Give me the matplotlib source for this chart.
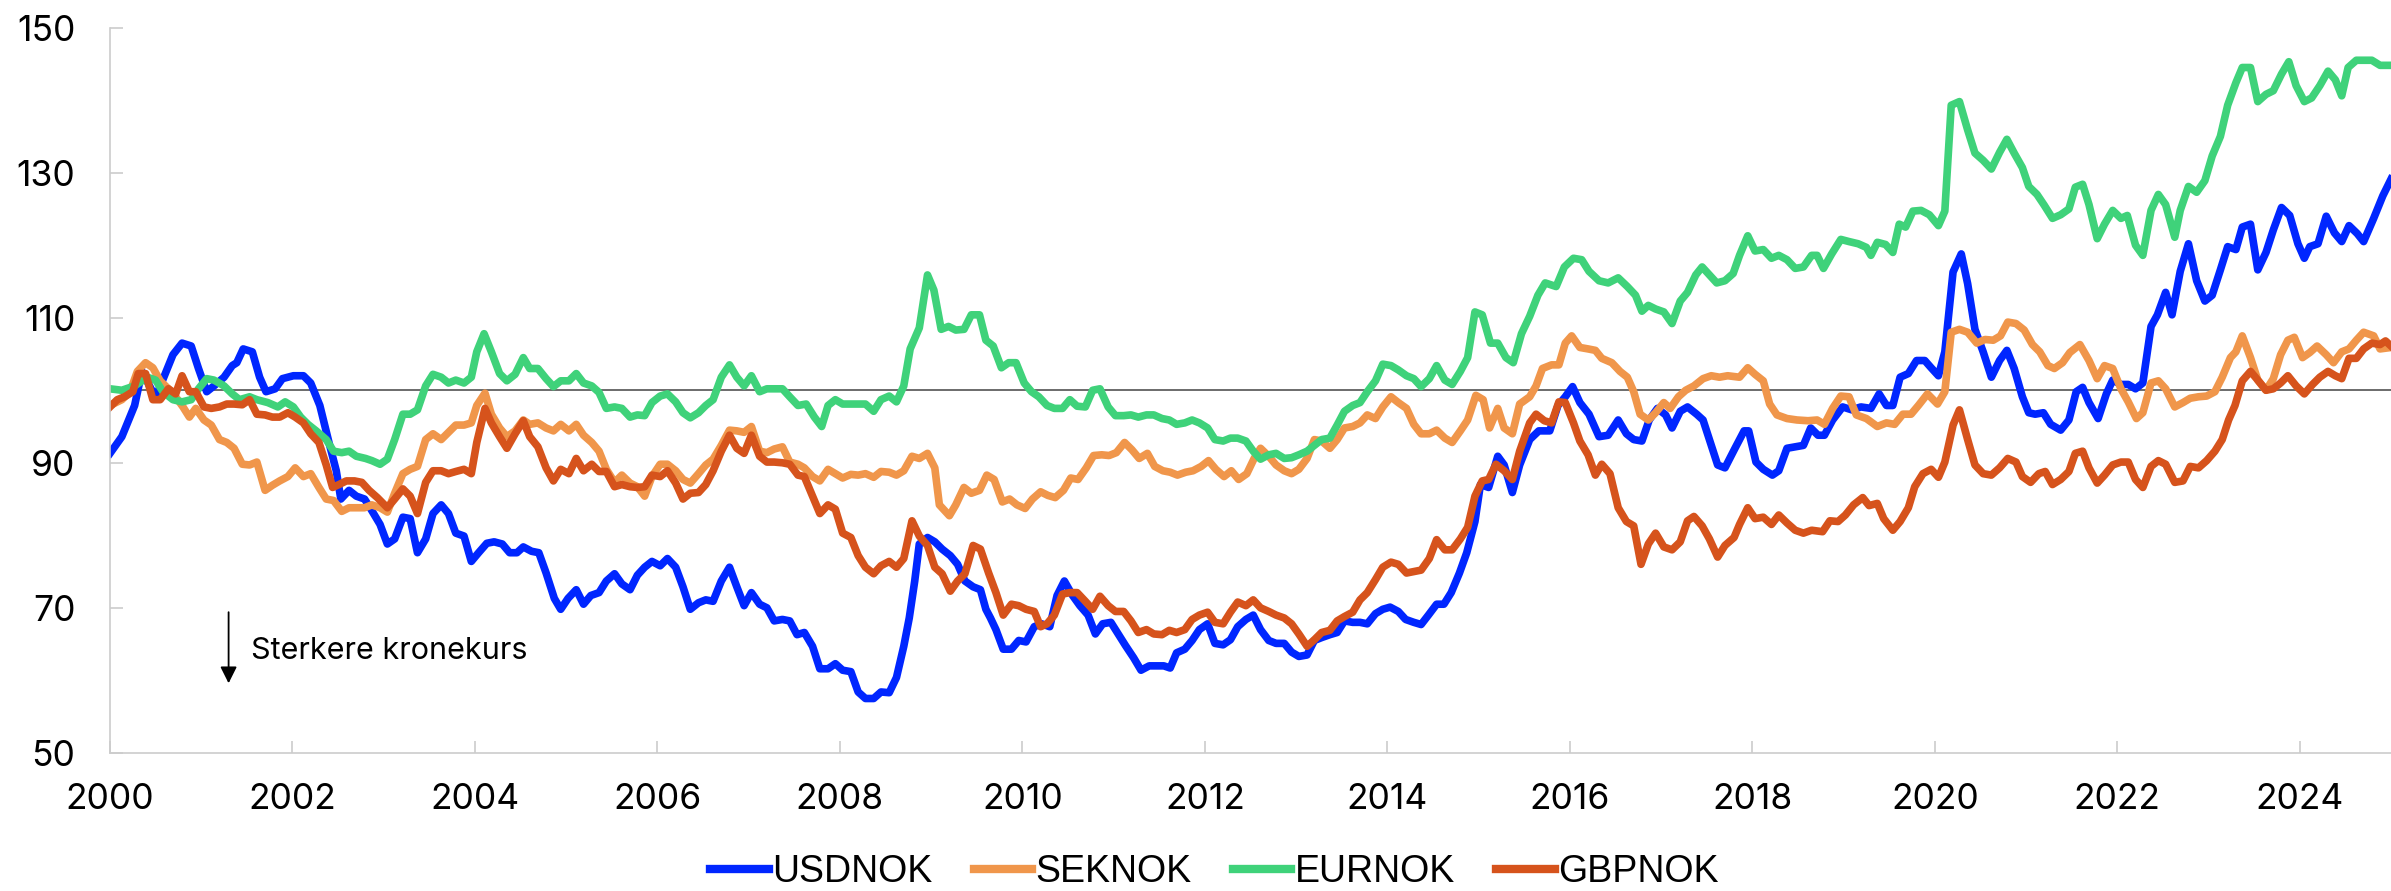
import matplotlib.pyplot as plt

# (år, indeks), 2000 = 100
usdnok = [
    (2000.00, 91.3), (2000.13, 93.6), (2000.27, 97.9), (2000.35, 102.6), (2000.50, 99.0),
    (2000.69, 104.9), (2000.79, 106.5), (2000.89, 106.1), (2000.97, 103.0), (2001.06, 99.8),
    (2001.14, 100.6), (2001.25, 101.8), (2001.34, 103.4), (2001.39, 103.8), (2001.46, 105.7),
    (2001.56, 105.3), (2001.64, 101.8), (2001.71, 99.8), (2001.81, 100.2), (2001.89, 101.6),
    (2002.01, 102.0), (2002.12, 102.0), (2002.20, 101.0), (2002.30, 97.9), (2002.40, 92.8),
    (2002.48, 88.9), (2002.53, 85.0), (2002.62, 86.2), (2002.70, 85.4), (2002.79, 85.0),
    (2002.87, 83.4), (2002.96, 81.5), (2003.04, 78.8), (2003.12, 79.5), (2003.21, 82.5),
    (2003.29, 82.3), (2003.37, 77.6), (2003.46, 79.5), (2003.54, 83.0), (2003.63, 84.2),
    (2003.71, 83.0), (2003.79, 80.3), (2003.88, 79.9), (2003.96, 76.4), (2004.04, 77.6),
    (2004.13, 78.9), (2004.21, 79.1), (2004.30, 78.8), (2004.38, 77.6), (2004.46, 77.6),
    (2004.53, 78.4), (2004.62, 77.8), (2004.70, 77.6), (2004.78, 74.8), (2004.87, 71.3),
    (2004.94, 69.8), (2005.02, 71.3), (2005.11, 72.5), (2005.19, 70.5), (2005.27, 71.7),
    (2005.36, 72.1), (2005.44, 73.7), (2005.53, 74.7), (2005.61, 73.3), (2005.70, 72.5),
    (2005.78, 74.5), (2005.86, 75.6), (2005.94, 76.4), (2006.03, 75.8), (2006.11, 76.8),
    (2006.20, 75.6), (2006.28, 72.9), (2006.36, 69.8), (2006.45, 70.7), (2006.53, 71.1),
    (2006.61, 70.9), (2006.70, 73.7), (2006.79, 75.6), (2006.87, 72.9), (2006.95, 70.3),
    (2007.03, 72.1), (2007.12, 70.5), (2007.20, 70.0), (2007.28, 68.2), (2007.37, 68.4),
    (2007.45, 68.2), (2007.53, 66.3), (2007.61, 66.6), (2007.70, 64.7), (2007.78, 61.6),
    (2007.87, 61.6), (2007.95, 62.3), (2008.03, 61.4), (2008.12, 61.2), (2008.20, 58.4),
    (2008.28, 57.5), (2008.37, 57.5), (2008.45, 58.4), (2008.54, 58.3), (2008.62, 60.4),
    (2008.70, 64.7), (2008.76, 68.6), (2008.82, 73.7), (2008.87, 78.8), (2008.96, 79.7),
    (2009.04, 79.1), (2009.12, 78.1), (2009.21, 77.2), (2009.29, 76.0), (2009.37, 73.7),
    (2009.46, 72.9), (2009.54, 72.5), (2009.60, 69.8), (2009.65, 68.6), (2009.71, 67.0),
    (2009.79, 64.3), (2009.88, 64.3), (2009.96, 65.5), (2010.04, 65.3), (2010.13, 67.4),
    (2010.21, 67.8), (2010.30, 67.4), (2010.38, 71.7), (2010.46, 73.7), (2010.55, 71.7),
    (2010.63, 70.3), (2010.72, 69.0), (2010.80, 66.4), (2010.88, 67.8), (2010.97, 68.0),
    (2011.05, 66.4), (2011.13, 64.8), (2011.22, 63.1), (2011.30, 61.4), (2011.39, 62.0),
    (2011.47, 62.0), (2011.55, 62.0), (2011.62, 61.7), (2011.69, 63.8), (2011.78, 64.3),
    (2011.86, 65.5), (2011.94, 67.0), (2012.03, 67.8), (2012.11, 65.1), (2012.20, 64.9),
    (2012.28, 65.6), (2012.36, 67.4), (2012.45, 68.4), (2012.53, 69.0), (2012.61, 67.0),
    (2012.70, 65.5), (2012.78, 65.1), (2012.87, 65.1), (2012.95, 63.9), (2013.03, 63.3),
    (2013.12, 63.5), (2013.20, 65.5), (2013.28, 65.9), (2013.37, 66.3), (2013.45, 66.6),
    (2013.53, 68.2), (2013.62, 68.0), (2013.70, 68.0), (2013.78, 67.8), (2013.87, 69.2),
    (2013.95, 69.8), (2014.03, 70.1), (2014.12, 69.5), (2014.20, 68.4), (2014.29, 68.0),
    (2014.37, 67.7), (2014.45, 69.0), (2014.54, 70.5), (2014.62, 70.5), (2014.70, 72.1),
    (2014.79, 74.8), (2014.87, 77.6), (2014.96, 81.9), (2015.02, 87.0), (2015.11, 86.6),
    (2015.21, 90.9), (2015.28, 89.7), (2015.37, 85.9), (2015.45, 89.7), (2015.56, 93.2),
    (2015.66, 94.4), (2015.78, 94.4), (2015.87, 97.9), (2015.95, 99.1), (2016.03, 100.5),
    (2016.11, 98.3), (2016.21, 96.7), (2016.32, 93.6), (2016.42, 93.8), (2016.53, 95.9),
    (2016.62, 94.0), (2016.70, 93.2), (2016.79, 93.0), (2016.87, 95.9), (2016.96, 97.5),
    (2017.05, 96.6), (2017.12, 94.8), (2017.21, 97.1), (2017.29, 97.7), (2017.39, 96.7),
    (2017.46, 95.9), (2017.53, 93.2), (2017.62, 89.7), (2017.70, 89.3), (2017.81, 92.0),
    (2017.91, 94.4), (2017.96, 94.4), (2018.04, 90.1), (2018.12, 89.1), (2018.22, 88.3),
    (2018.29, 88.9), (2018.38, 92.0), (2018.47, 92.2), (2018.56, 92.4), (2018.64, 94.8),
    (2018.72, 93.8), (2018.79, 93.8), (2018.88, 95.9), (2018.99, 97.7), (2019.09, 97.3),
    (2019.19, 97.7), (2019.30, 97.5), (2019.39, 99.5), (2019.47, 97.9), (2019.54, 97.9),
    (2019.62, 101.8), (2019.71, 102.3), (2019.80, 104.1), (2019.89, 104.1), (2019.96, 103.1),
    (2020.04, 102.0), (2020.11, 105.3), (2020.20, 116.3), (2020.29, 118.8), (2020.36, 114.7),
    (2020.44, 108.4), (2020.53, 105.3), (2020.62, 101.8), (2020.71, 104.1), (2020.79, 105.5),
    (2020.87, 103.0), (2020.96, 99.1), (2021.03, 96.9), (2021.10, 96.7), (2021.19, 96.9),
    (2021.27, 95.3), (2021.38, 94.5), (2021.47, 95.9), (2021.55, 99.8), (2021.62, 100.4),
    (2021.69, 98.3), (2021.79, 96.1), (2021.88, 99.5), (2021.95, 101.4), (2022.04, 100.8),
    (2022.12, 100.8), (2022.20, 100.2), (2022.28, 101.0), (2022.37, 108.8), (2022.44, 110.4),
    (2022.53, 113.5), (2022.60, 110.4), (2022.69, 116.4), (2022.78, 120.2), (2022.87, 115.1),
    (2022.96, 112.3), (2023.04, 113.1), (2023.13, 116.6), (2023.21, 119.8), (2023.30, 119.4),
    (2023.37, 122.5), (2023.46, 122.9), (2023.54, 116.6), (2023.63, 119.0), (2023.71, 122.1),
    (2023.80, 125.2), (2023.89, 124.1), (2023.98, 120.2), (2024.05, 118.2), (2024.11, 119.8),
    (2024.20, 120.2), (2024.29, 124.0), (2024.38, 121.7), (2024.46, 120.5), (2024.54, 122.7),
    (2024.63, 121.6), (2024.70, 120.5), (2024.81, 123.7), (2024.91, 126.8), (2025.00, 129.1),
]

seknok = [
    (2000.00, 97.9), (2000.13, 98.7), (2000.22, 99.8), (2000.30, 102.6), (2000.39, 103.8),
    (2000.47, 103.1), (2000.55, 101.3), (2000.64, 100.2), (2000.72, 99.1), (2000.80, 97.7),
    (2000.87, 96.3), (2000.94, 97.5), (2001.03, 95.9), (2001.11, 95.2), (2001.20, 93.2),
    (2001.28, 92.8), (2001.36, 92.0), (2001.45, 89.8), (2001.53, 89.7), (2001.61, 90.1),
    (2001.70, 86.2), (2001.78, 86.9), (2001.86, 87.5), (2001.95, 88.1), (2002.03, 89.3),
    (2002.12, 88.1), (2002.20, 88.5), (2002.29, 86.6), (2002.37, 85.0), (2002.45, 84.8),
    (2002.54, 83.3), (2002.62, 83.8), (2002.70, 83.8), (2002.79, 83.8), (2002.87, 84.2),
    (2002.96, 83.8), (2003.04, 83.2), (2003.12, 85.8), (2003.21, 88.5), (2003.29, 89.1),
    (2003.37, 89.5), (2003.46, 93.2), (2003.54, 94.0), (2003.63, 93.2), (2003.71, 94.2),
    (2003.79, 95.2), (2003.88, 95.2), (2003.96, 95.5), (2004.02, 97.9), (2004.11, 99.6),
    (2004.18, 96.7), (2004.27, 94.8), (2004.35, 93.6), (2004.44, 94.4), (2004.53, 95.9),
    (2004.60, 95.3), (2004.69, 95.5), (2004.78, 94.8), (2004.86, 94.4), (2004.94, 95.3),
    (2005.03, 94.4), (2005.11, 95.3), (2005.19, 93.8), (2005.28, 92.8), (2005.36, 91.6),
    (2005.44, 89.1), (2005.53, 87.3), (2005.61, 88.3), (2005.70, 87.2), (2005.78, 86.7),
    (2005.86, 85.4), (2005.94, 88.1), (2006.03, 89.8), (2006.11, 89.8), (2006.20, 88.9),
    (2006.28, 87.7), (2006.36, 87.2), (2006.45, 88.5), (2006.53, 89.7), (2006.61, 90.5),
    (2006.70, 92.4), (2006.79, 94.5), (2006.87, 94.4), (2006.95, 94.2), (2007.03, 95.0),
    (2007.12, 91.6), (2007.20, 91.4), (2007.28, 91.9), (2007.37, 92.2), (2007.45, 90.1),
    (2007.54, 89.8), (2007.61, 89.3), (2007.70, 88.1), (2007.78, 87.5), (2007.87, 89.1),
    (2007.95, 88.5), (2008.03, 87.9), (2008.12, 88.4), (2008.20, 88.3), (2008.28, 88.5),
    (2008.37, 88.0), (2008.45, 88.8), (2008.54, 88.7), (2008.62, 88.3), (2008.70, 88.9),
    (2008.79, 90.9), (2008.87, 90.6), (2008.96, 91.3), (2009.04, 89.3), (2009.09, 84.2),
    (2009.20, 82.7), (2009.27, 84.2), (2009.36, 86.6), (2009.44, 85.8), (2009.53, 86.2),
    (2009.61, 88.3), (2009.69, 87.7), (2009.78, 84.6), (2009.86, 85.0), (2009.94, 84.2),
    (2010.03, 83.7), (2010.11, 85.0), (2010.20, 86.0), (2010.28, 85.5), (2010.36, 85.2),
    (2010.45, 86.2), (2010.53, 87.9), (2010.61, 87.7), (2010.70, 89.3), (2010.78, 91.0),
    (2010.87, 91.1), (2010.95, 91.0), (2011.03, 91.4), (2011.12, 92.8), (2011.20, 91.8),
    (2011.28, 90.6), (2011.37, 91.3), (2011.45, 89.5), (2011.54, 88.9), (2011.62, 88.7),
    (2011.70, 88.3), (2011.79, 88.7), (2011.87, 88.9), (2011.96, 89.5), (2012.04, 90.3),
    (2012.12, 89.1), (2012.21, 88.1), (2012.29, 88.9), (2012.37, 87.7), (2012.46, 88.5),
    (2012.54, 90.6), (2012.61, 92.0), (2012.70, 90.9), (2012.78, 89.7), (2012.87, 88.9),
    (2012.95, 88.5), (2013.03, 89.1), (2013.12, 90.6), (2013.20, 93.2), (2013.28, 93.0),
    (2013.37, 92.0), (2013.45, 93.2), (2013.53, 94.8), (2013.62, 95.0), (2013.70, 95.5),
    (2013.78, 96.6), (2013.87, 96.1), (2013.95, 97.7), (2014.04, 99.1), (2014.12, 98.3),
    (2014.21, 97.5), (2014.29, 95.3), (2014.37, 94.0), (2014.46, 94.0), (2014.54, 94.5),
    (2014.63, 93.4), (2014.71, 92.8), (2014.80, 94.4), (2014.88, 95.9), (2014.97, 99.3),
    (2015.05, 98.7), (2015.12, 94.8), (2015.21, 97.5), (2015.28, 94.8), (2015.37, 94.0),
    (2015.45, 98.1), (2015.56, 99.1), (2015.63, 100.6), (2015.70, 103.0), (2015.80, 103.5),
    (2015.88, 103.5), (2015.95, 106.5), (2016.02, 107.5), (2016.11, 105.9), (2016.20, 105.7),
    (2016.28, 105.5), (2016.35, 104.4), (2016.46, 103.8), (2016.55, 102.6), (2016.63, 101.8),
    (2016.70, 99.8), (2016.77, 96.7), (2016.86, 95.9), (2016.94, 96.9), (2017.03, 98.3),
    (2017.10, 97.5), (2017.19, 99.1), (2017.27, 100.0), (2017.36, 100.6), (2017.46, 101.6),
    (2017.55, 102.0), (2017.64, 101.8), (2017.73, 102.0), (2017.86, 101.8), (2017.95, 103.1),
    (2018.03, 102.2), (2018.12, 101.3), (2018.19, 98.1), (2018.27, 96.6), (2018.38, 96.1),
    (2018.49, 95.9), (2018.61, 95.8), (2018.71, 95.9), (2018.79, 95.3), (2018.88, 97.5),
    (2018.97, 99.2), (2019.06, 99.1), (2019.14, 96.6), (2019.25, 96.1), (2019.37, 95.0),
    (2019.47, 95.5), (2019.56, 95.3), (2019.65, 96.7), (2019.74, 96.7), (2019.82, 97.9),
    (2019.92, 99.5), (2020.03, 98.1), (2020.11, 99.8), (2020.18, 108.0), (2020.27, 108.4),
    (2020.36, 108.0), (2020.46, 106.5), (2020.55, 107.0), (2020.64, 106.9), (2020.72, 107.5),
    (2020.80, 109.4), (2020.89, 109.2), (2020.98, 108.3), (2021.07, 106.3), (2021.15, 105.3),
    (2021.24, 103.4), (2021.31, 103.0), (2021.40, 103.8), (2021.48, 105.2), (2021.59, 106.3),
    (2021.69, 104.1), (2021.78, 101.6), (2021.86, 103.4), (2021.95, 103.0), (2022.04, 100.2),
    (2022.12, 98.4), (2022.21, 96.1), (2022.28, 96.9), (2022.37, 101.0), (2022.45, 101.3),
    (2022.53, 100.2), (2022.63, 97.7), (2022.72, 98.3), (2022.80, 98.9), (2022.89, 99.1),
    (2022.98, 99.2), (2023.07, 99.8), (2023.15, 101.8), (2023.24, 104.5), (2023.30, 105.3),
    (2023.37, 107.5), (2023.46, 104.5), (2023.54, 101.4), (2023.63, 100.0), (2023.71, 101.6),
    (2023.79, 104.9), (2023.87, 106.9), (2023.94, 107.3), (2024.03, 104.5), (2024.11, 105.2),
    (2024.19, 106.1), (2024.29, 104.9), (2024.37, 103.8), (2024.46, 105.3), (2024.54, 105.7),
    (2024.62, 106.9), (2024.70, 108.0), (2024.81, 107.5), (2024.88, 105.7), (2025.00, 105.9),
]

eurnok = [
    (2000.00, 100.2), (2000.13, 100.0), (2000.27, 100.6), (2000.41, 101.8), (2000.50, 101.4),
    (2000.58, 99.8), (2000.69, 98.7), (2000.79, 98.4), (2000.89, 98.7), (2000.97, 100.2),
    (2001.06, 101.6), (2001.14, 101.4), (2001.25, 100.6), (2001.34, 99.5), (2001.42, 98.7),
    (2001.53, 99.1), (2001.61, 98.7), (2001.73, 98.3), (2001.84, 97.7), (2001.92, 98.4),
    (2002.01, 97.7), (2002.09, 96.3), (2002.17, 95.3), (2002.26, 94.4), (2002.37, 93.2),
    (2002.45, 91.6), (2002.54, 91.4), (2002.62, 91.6), (2002.70, 90.9), (2002.80, 90.6),
    (2002.87, 90.3), (2002.96, 89.8), (2003.04, 90.5), (2003.12, 93.2), (2003.21, 96.7),
    (2003.29, 96.7), (2003.37, 97.3), (2003.46, 100.6), (2003.54, 102.2), (2003.63, 101.8),
    (2003.71, 101.0), (2003.79, 101.4), (2003.88, 101.0), (2003.96, 101.8), (2004.02, 105.3),
    (2004.10, 107.8), (2004.18, 105.3), (2004.27, 102.3), (2004.35, 101.3), (2004.44, 102.2),
    (2004.53, 104.5), (2004.60, 103.0), (2004.69, 103.0), (2004.78, 101.6), (2004.86, 100.5),
    (2004.94, 101.3), (2005.03, 101.3), (2005.11, 102.3), (2005.19, 101.0), (2005.28, 100.6),
    (2005.36, 99.7), (2005.44, 97.5), (2005.53, 97.7), (2005.61, 97.5), (2005.70, 96.3),
    (2005.78, 96.6), (2005.86, 96.5), (2005.94, 98.3), (2006.03, 99.2), (2006.11, 99.5),
    (2006.20, 98.4), (2006.28, 96.9), (2006.36, 96.2), (2006.45, 96.9), (2006.53, 97.9),
    (2006.61, 98.7), (2006.70, 101.8), (2006.79, 103.5), (2006.87, 101.8), (2006.95, 100.6),
    (2007.03, 102.0), (2007.12, 99.8), (2007.20, 100.2), (2007.28, 100.2), (2007.37, 100.2),
    (2007.45, 99.1), (2007.54, 97.9), (2007.63, 98.1), (2007.72, 96.3), (2007.80, 95.0),
    (2007.87, 97.9), (2007.95, 98.7), (2008.03, 98.1), (2008.12, 98.1), (2008.20, 98.1),
    (2008.28, 98.1), (2008.37, 97.1), (2008.45, 98.7), (2008.54, 99.2), (2008.62, 98.4),
    (2008.70, 100.6), (2008.77, 105.7), (2008.87, 108.6), (2008.96, 115.9), (2009.03, 113.8),
    (2009.11, 108.4), (2009.19, 108.8), (2009.27, 108.3), (2009.36, 108.4), (2009.44, 110.4),
    (2009.53, 110.4), (2009.60, 106.9), (2009.68, 106.1), (2009.77, 103.1), (2009.85, 103.8),
    (2009.93, 103.8), (2010.02, 101.0), (2010.10, 99.8), (2010.18, 99.1), (2010.27, 97.9),
    (2010.35, 97.5), (2010.44, 97.5), (2010.52, 98.7), (2010.60, 97.8), (2010.69, 97.7),
    (2010.77, 100.0), (2010.85, 100.2), (2010.94, 97.7), (2011.02, 96.5), (2011.11, 96.5),
    (2011.19, 96.6), (2011.27, 96.3), (2011.36, 96.6), (2011.44, 96.6), (2011.53, 96.1),
    (2011.61, 95.9), (2011.69, 95.3), (2011.78, 95.5), (2011.86, 95.9), (2011.94, 95.5),
    (2012.03, 94.8), (2012.11, 93.2), (2012.20, 93.0), (2012.28, 93.4), (2012.36, 93.4),
    (2012.45, 93.0), (2012.53, 91.6), (2012.61, 90.5), (2012.70, 91.1), (2012.78, 91.3),
    (2012.87, 90.6), (2012.95, 90.7), (2013.03, 91.1), (2013.12, 91.6), (2013.20, 92.4),
    (2013.28, 93.2), (2013.37, 93.4), (2013.45, 95.2), (2013.53, 97.1), (2013.62, 97.9),
    (2013.70, 98.3), (2013.78, 99.8), (2013.87, 101.3), (2013.95, 103.6), (2014.04, 103.4),
    (2014.12, 102.8), (2014.21, 102.0), (2014.29, 101.6), (2014.37, 100.5), (2014.46, 101.6),
    (2014.54, 103.4), (2014.63, 101.4), (2014.71, 100.8), (2014.80, 102.6), (2014.88, 104.5),
    (2014.96, 110.8), (2015.04, 110.4), (2015.13, 106.5), (2015.21, 106.5), (2015.30, 104.5),
    (2015.38, 103.8), (2015.47, 107.8), (2015.56, 110.2), (2015.65, 113.1), (2015.73, 114.8),
    (2015.85, 114.3), (2015.94, 117.0), (2016.04, 118.2), (2016.13, 118.0), (2016.21, 116.4),
    (2016.32, 115.1), (2016.42, 114.8), (2016.53, 115.5), (2016.63, 114.3), (2016.72, 113.1),
    (2016.79, 110.9), (2016.86, 111.7), (2016.94, 111.2), (2017.03, 110.8), (2017.12, 109.2),
    (2017.21, 112.3), (2017.29, 113.5), (2017.38, 115.9), (2017.45, 117.0), (2017.53, 115.9),
    (2017.61, 114.8), (2017.70, 115.1), (2017.79, 116.1), (2017.86, 118.6), (2017.95, 121.3),
    (2018.03, 119.2), (2018.12, 119.4), (2018.21, 118.2), (2018.29, 118.6), (2018.38, 118.0),
    (2018.47, 116.8), (2018.56, 117.0), (2018.65, 118.6), (2018.71, 118.6), (2018.78, 116.8),
    (2018.87, 118.8), (2018.97, 120.8), (2019.06, 120.5), (2019.16, 120.2), (2019.25, 119.7),
    (2019.30, 118.6), (2019.37, 120.4), (2019.46, 120.1), (2019.54, 119.0), (2019.61, 122.9),
    (2019.68, 122.5), (2019.76, 124.7), (2019.85, 124.8), (2019.94, 124.2), (2020.04, 122.7),
    (2020.11, 124.7), (2020.18, 139.3), (2020.27, 139.8), (2020.36, 135.9), (2020.44, 132.7),
    (2020.53, 131.7), (2020.62, 130.5), (2020.71, 132.8), (2020.79, 134.6), (2020.87, 132.7),
    (2020.96, 130.7), (2021.03, 128.1), (2021.12, 127.0), (2021.20, 125.5), (2021.29, 123.7),
    (2021.38, 124.2), (2021.47, 125.0), (2021.54, 128.0), (2021.62, 128.4), (2021.69, 125.6),
    (2021.78, 120.9), (2021.86, 122.9), (2021.95, 124.8), (2022.04, 123.7), (2022.11, 124.1),
    (2022.20, 120.0), (2022.28, 118.6), (2022.37, 124.8), (2022.45, 127.0), (2022.53, 125.6),
    (2022.63, 121.1), (2022.69, 124.8), (2022.78, 128.1), (2022.87, 127.3), (2022.96, 128.9),
    (2023.04, 132.3), (2023.13, 135.0), (2023.21, 139.3), (2023.30, 142.4), (2023.37, 144.5),
    (2023.46, 144.5), (2023.54, 139.8), (2023.63, 140.8), (2023.71, 141.3), (2023.80, 143.6),
    (2023.88, 145.3), (2023.96, 142.0), (2024.05, 139.8), (2024.13, 140.3), (2024.22, 142.0),
    (2024.31, 144.0), (2024.39, 142.8), (2024.46, 140.6), (2024.53, 144.5), (2024.62, 145.5),
    (2024.70, 145.5), (2024.79, 145.5), (2024.88, 144.8), (2025.00, 144.8),
]

gbpnok = [
    (2000.00, 97.7), (2000.08, 98.7), (2000.16, 99.1), (2000.25, 99.8), (2000.31, 102.3),
    (2000.39, 102.3), (2000.47, 98.7), (2000.55, 98.7), (2000.64, 100.2), (2000.72, 99.5),
    (2000.79, 102.0), (2000.87, 99.8), (2000.94, 99.8), (2001.03, 97.7), (2001.11, 97.5),
    (2001.20, 97.7), (2001.28, 98.1), (2001.36, 98.1), (2001.45, 98.0), (2001.53, 98.7),
    (2001.61, 96.7), (2001.70, 96.6), (2001.78, 96.3), (2001.86, 96.3), (2001.95, 96.9),
    (2002.03, 96.3), (2002.12, 95.5), (2002.20, 94.0), (2002.29, 92.8), (2002.37, 89.7),
    (2002.44, 86.6), (2002.51, 87.0), (2002.59, 87.5), (2002.68, 87.5), (2002.76, 87.3),
    (2002.84, 86.2), (2002.93, 85.2), (2003.04, 83.8), (2003.12, 85.0), (2003.21, 86.4),
    (2003.29, 85.4), (2003.37, 83.0), (2003.46, 87.3), (2003.54, 88.9), (2003.63, 88.9),
    (2003.71, 88.5), (2003.79, 88.8), (2003.88, 89.1), (2003.96, 88.5), (2004.02, 92.8),
    (2004.11, 97.5), (2004.18, 95.5), (2004.27, 93.6), (2004.35, 92.0), (2004.44, 94.0),
    (2004.53, 95.8), (2004.60, 93.6), (2004.69, 92.2), (2004.78, 89.3), (2004.86, 87.5),
    (2004.94, 89.1), (2005.03, 88.5), (2005.11, 90.6), (2005.19, 88.9), (2005.28, 89.8),
    (2005.36, 88.8), (2005.44, 88.8), (2005.53, 86.7), (2005.61, 87.0), (2005.70, 86.7),
    (2005.78, 86.6), (2005.86, 86.7), (2005.94, 88.3), (2006.03, 88.1), (2006.11, 88.9),
    (2006.20, 87.2), (2006.28, 85.0), (2006.36, 85.8), (2006.45, 85.9), (2006.53, 87.0),
    (2006.61, 88.9), (2006.70, 91.6), (2006.79, 93.8), (2006.87, 92.0), (2006.95, 91.3),
    (2007.03, 93.8), (2007.12, 90.9), (2007.20, 90.1), (2007.28, 90.1), (2007.37, 90.0),
    (2007.45, 89.8), (2007.54, 88.3), (2007.61, 88.1), (2007.70, 85.4), (2007.78, 83.0),
    (2007.87, 84.2), (2007.95, 83.6), (2008.03, 80.3), (2008.12, 79.7), (2008.20, 77.2),
    (2008.28, 75.6), (2008.37, 74.7), (2008.45, 75.8), (2008.54, 76.4), (2008.62, 75.6),
    (2008.70, 76.8), (2008.79, 82.0), (2008.87, 79.9), (2008.96, 78.6), (2009.04, 75.6),
    (2009.12, 74.7), (2009.21, 72.3), (2009.29, 73.7), (2009.37, 74.7), (2009.46, 78.6),
    (2009.54, 78.1), (2009.63, 74.8), (2009.71, 72.1), (2009.79, 69.0), (2009.88, 70.5),
    (2009.96, 70.3), (2010.04, 69.8), (2010.13, 69.5), (2010.20, 67.4), (2010.27, 67.8),
    (2010.35, 69.0), (2010.44, 71.9), (2010.52, 72.1), (2010.60, 72.1), (2010.69, 70.9),
    (2010.77, 69.8), (2010.85, 71.6), (2010.94, 70.3), (2011.02, 69.5), (2011.11, 69.5),
    (2011.19, 68.2), (2011.27, 66.6), (2011.36, 67.0), (2011.44, 66.4), (2011.53, 66.3),
    (2011.61, 66.9), (2011.69, 66.6), (2011.78, 67.0), (2011.86, 68.4), (2011.94, 69.0),
    (2012.03, 69.4), (2012.11, 68.0), (2012.20, 67.8), (2012.28, 69.4), (2012.36, 70.8),
    (2012.45, 70.3), (2012.53, 71.1), (2012.61, 70.0), (2012.70, 69.5), (2012.78, 69.0),
    (2012.87, 68.6), (2012.95, 67.8), (2013.03, 66.4), (2013.12, 64.7), (2013.20, 65.6),
    (2013.28, 66.6), (2013.37, 66.9), (2013.45, 68.2), (2013.53, 68.8), (2013.62, 69.4),
    (2013.70, 71.1), (2013.78, 72.1), (2013.87, 73.9), (2013.95, 75.6), (2014.04, 76.3),
    (2014.12, 76.0), (2014.21, 74.8), (2014.29, 75.0), (2014.37, 75.2), (2014.46, 76.8),
    (2014.54, 79.4), (2014.63, 78.0), (2014.71, 78.0), (2014.80, 79.5), (2014.88, 81.1),
    (2014.96, 85.4), (2015.04, 87.5), (2015.11, 87.7), (2015.19, 89.8), (2015.28, 88.9),
    (2015.37, 87.7), (2015.45, 91.6), (2015.56, 95.5), (2015.63, 96.7), (2015.72, 95.8),
    (2015.80, 95.5), (2015.88, 98.4), (2015.95, 98.3), (2016.04, 95.5), (2016.11, 93.0),
    (2016.20, 91.1), (2016.28, 88.3), (2016.35, 89.8), (2016.44, 88.5), (2016.53, 83.8),
    (2016.62, 81.9), (2016.70, 81.3), (2016.78, 76.0), (2016.86, 78.8), (2016.94, 80.3),
    (2017.03, 78.4), (2017.12, 78.0), (2017.21, 79.1), (2017.29, 82.0), (2017.36, 82.6),
    (2017.45, 81.3), (2017.53, 79.5), (2017.62, 77.0), (2017.70, 78.6), (2017.80, 79.7),
    (2017.86, 81.5), (2017.95, 83.8), (2018.03, 82.3), (2018.12, 82.5), (2018.21, 81.5),
    (2018.29, 82.8), (2018.38, 81.7), (2018.47, 80.7), (2018.56, 80.3), (2018.65, 80.7),
    (2018.77, 80.5), (2018.85, 82.0), (2018.94, 81.9), (2019.02, 82.8), (2019.11, 84.2),
    (2019.21, 85.2), (2019.28, 84.1), (2019.37, 84.4), (2019.44, 82.3), (2019.54, 80.7),
    (2019.62, 81.9), (2019.71, 83.8), (2019.78, 86.7), (2019.87, 88.5), (2019.96, 89.1),
    (2020.04, 88.0), (2020.11, 90.1), (2020.20, 95.2), (2020.27, 97.3), (2020.36, 93.2),
    (2020.44, 89.7), (2020.53, 88.5), (2020.62, 88.3), (2020.71, 89.3), (2020.80, 90.6),
    (2020.89, 90.1), (2020.96, 88.1), (2021.05, 87.3), (2021.14, 88.5), (2021.21, 88.8),
    (2021.29, 87.0), (2021.38, 87.7), (2021.47, 88.8), (2021.54, 91.3), (2021.62, 91.6),
    (2021.69, 89.3), (2021.78, 87.2), (2021.86, 88.3), (2021.95, 89.7), (2022.04, 90.1),
    (2022.12, 90.1), (2022.20, 87.7), (2022.28, 86.6), (2022.37, 89.5), (2022.45, 90.3),
    (2022.53, 89.8), (2022.63, 87.3), (2022.72, 87.5), (2022.80, 89.5), (2022.89, 89.3),
    (2022.98, 90.3), (2023.07, 91.6), (2023.15, 93.2), (2023.22, 95.9), (2023.29, 97.9),
    (2023.37, 101.3), (2023.46, 102.6), (2023.54, 101.4), (2023.63, 100.0), (2023.71, 100.2),
    (2023.79, 101.0), (2023.87, 102.0), (2023.96, 100.6), (2024.05, 99.5), (2024.14, 100.8),
    (2024.22, 101.8), (2024.31, 102.6), (2024.39, 102.0), (2024.46, 101.6), (2024.54, 104.4),
    (2024.62, 104.4), (2024.70, 105.7), (2024.79, 106.5), (2024.88, 106.3), (2024.94, 106.8),
    (2025.00, 106.1),
]

serier = ["USDNOK", "SEKNOK", "EURNOK", "GBPNOK"]
farger = ["#0026ff", "#f0964b", "#3fd27a", "#d6531c"]
aar_ticks = list(range(2000, 2025, 2))
y_ticks = [50, 70, 90, 110, 130, 150]

plt.rcParams['font.family'] = ['Inter', 'DejaVu Sans']

fig = plt.figure(figsize=(23.91, 8.91), dpi=100)
ax = fig.add_axes([0.046, 0.155, 0.954, 0.814])

for navn, data, farge in zip(serier, [usdnok, seknok, eurnok, gbpnok], farger):
    t = [p[0] for p in data]
    v = [p[1] for p in data]
    ax.plot(t, v, color=farge, lw=5.5, label=navn, solid_joinstyle='round')

ax.axhline(100, color='#444444', lw=1.1, zorder=1)

ax.set_xlim(2000, 2025)
ax.set_ylim(50, 150)
ax.set_xticks(aar_ticks)
ax.set_xticklabels([str(a) for a in aar_ticks])
ax.set_yticks(y_ticks)

for s in ['top', 'right']:
    ax.spines[s].set_visible(False)
for s in ['left', 'bottom']:
    ax.spines[s].set_color('#cccccc')
    ax.spines[s].set_linewidth(1.2)

ax.tick_params(axis='both', direction='in', color='#cccccc', width=1.2, labelsize=25.5)
ax.tick_params(axis='x', length=9, pad=22)
ax.tick_params(axis='y', length=9, pad=25)

# pil og tekst
ax.annotate('', xy=(2001.30, 59.6), xytext=(2001.30, 69.4),
            arrowprops=dict(arrowstyle='-|>', color='black', lw=1.3,
                            mutation_scale=25, shrinkA=0, shrinkB=0))
ax.text(2001.55, 64.1, 'Sterkere kronekurs', fontsize=22, va='center', ha='left')

leg = fig.legend(loc='center', bbox_to_anchor=(0.508, 0.021), ncol=4, frameon=False,
                 prop={'family': 'Liberation Sans', 'size': 27},
                 handlelength=1.55, handletextpad=0.1, columnspacing=1.1)
for ln in leg.get_lines():
    ln.set_linewidth(6)

fig.savefig('out.png', dpi=100)
